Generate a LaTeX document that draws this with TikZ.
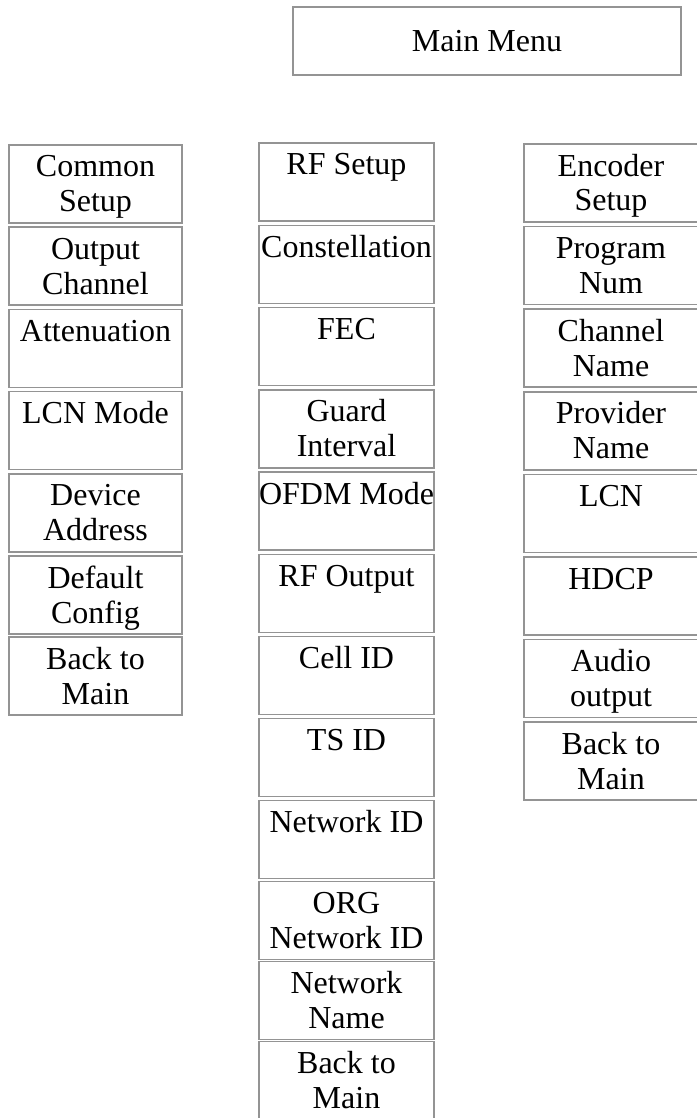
\documentclass[tikz,border=0pt]{standalone}
\usepackage{fontspec}
\setmainfont{Liberation Serif}
\usetikzlibrary{positioning}
\newcommand{\cell}[2][173pt]{\parbox[t][78pt][t]{#1}{\centering\rule{0pt}{32pt}#2}}
\tikzset{menubox/.style={draw=black!42, line width=1.5pt, inner sep=0pt, outer sep=0pt, font=\fontsize{32}{35}\selectfont}}

\begin{document}
\begin{tikzpicture}[x=1pt,y=-1pt]
    \useasboundingbox (0,0) rectangle (696,1118);
    \node (main) [menubox, minimum width=388pt, minimum height=68pt] at (487,41) {Main Menu};

    \node (common) [menubox, anchor=north west] at (9,145) {\cell{Common\\Setup}};
    \node (outch) [menubox, below=4.2pt of common] {\cell{Output\\Channel}};
    \node (atten) [menubox, below=4.2pt of outch] {\cell{Attenuation}};
    \node (lcnmode) [menubox, below=4.2pt of atten] {\cell{LCN Mode}};
    \node (devaddr) [menubox, below=4.2pt of lcnmode] {\cell{Device\\Address}};
    \node (defconf) [menubox, below=4.2pt of devaddr] {\cell{Default\\Config}};
    \node (backcom) [menubox, below=3pt of defconf] {\cell{Back to\\Main}};

    \node (rfsetup) [menubox, anchor=north west] at (259,143) {\cell[175pt]{RF Setup}};
    \node (constel) [menubox, below=4.3pt of rfsetup] {\cell[175pt]{Constellation}};
    \node (fec) [menubox, below=4.3pt of constel] {\cell[175pt]{FEC}};
    \node (guard) [menubox, below=4.3pt of fec] {\cell[175pt]{Guard\\Interval}};
    \node (ofdm) [menubox, below=4.3pt of guard] {\cell[175pt]{OFDM Mode}};
    \node (rfout) [menubox, below=4.3pt of ofdm] {\cell[175pt]{RF Output}};
    \node (cellid) [menubox, below=4pt of rfout] {\cell[175pt]{Cell ID}};
    \node (tsid) [menubox, below=4pt of cellid] {\cell[175pt]{TS ID}};
    \node (netid) [menubox, below=4pt of tsid] {\cell[175pt]{Network ID}};
    \node (orgnetid) [menubox, below=3pt of netid] {\cell[175pt]{ORG\\Network ID}};
    \node (netname) [menubox, below=2pt of orgnetid] {\cell[175pt]{Network\\Name}};
    \node (backrf) [menubox, below=2pt of netname] {\cell[175pt]{Back to\\Main}};

    \node (encsetup) [menubox, anchor=north west] at (524,144) {\cell[174pt]{Encoder\\Setup}};
    \node (prognum) [menubox, below=4.6pt of encsetup] {\cell[174pt]{Program\\Num}};
    \node (chname) [menubox, below=4.6pt of prognum] {\cell[174pt]{Channel\\Name}};
    \node (provname) [menubox, below=4.6pt of chname] {\cell[174pt]{Provider\\Name}};
    \node (lcn) [menubox, below=4.6pt of provname] {\cell[174pt]{LCN}};
    \node (hdcp) [menubox, below=4.6pt of lcn] {\cell[174pt]{HDCP}};
    \node (audio) [menubox, below=4.6pt of hdcp] {\cell[174pt]{Audio\\output}};
    \node (backenc) [menubox, below=4.6pt of audio] {\cell[174pt]{Back to\\Main}};
\end{tikzpicture}
\end{document}
